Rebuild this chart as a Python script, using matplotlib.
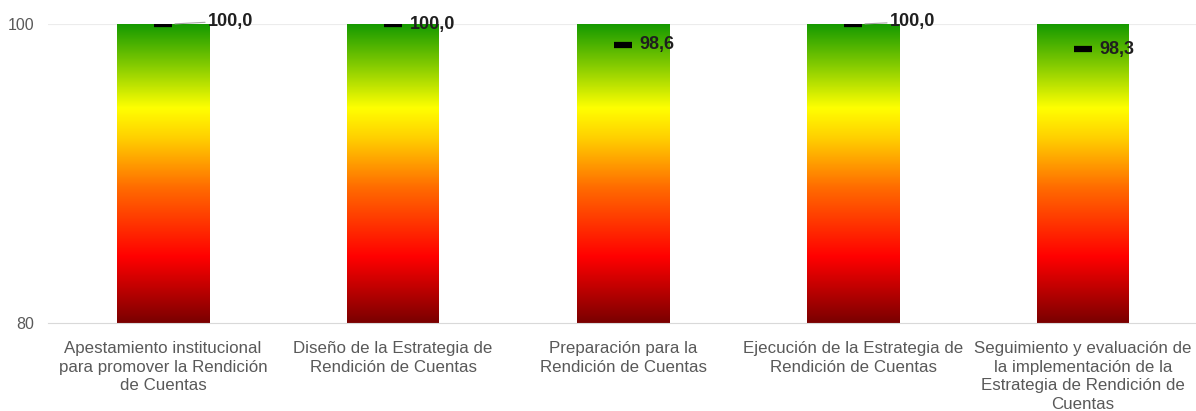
import numpy as np
import matplotlib
matplotlib.use("Agg")
import matplotlib.pyplot as plt
from matplotlib.colors import LinearSegmentedColormap

plt.rcParams['font.family'] = ['Liberation Sans', 'DejaVu Sans']

# datos
categorias = [
    "Apestamiento institucional\npara promover la Rendición\nde Cuentas",
    "Diseño de la Estrategia de\nRendición de Cuentas",
    "Preparación para la\nRendición de Cuentas",
    "Ejecución de la Estrategia de\nRendición de Cuentas",
    "Seguimiento y evaluación de\nla implementación de la\nEstrategia de Rendición de\nCuentas",
]
valores = [100.0, 100.0, 98.6, 100.0, 98.3]
etiquetas = ["100,0", "100,0", "98,6", "100,0", "98,3"]
y_ticks = [80, 100]

# posiciones de las etiquetas (desplazamiento x, y en datos)
label_dx = [0.195, 0.075, 0.07, 0.16, 0.07]
label_y = [100.2, 100.0, 98.6, 100.15, 98.3]
con_linea = [True, False, False, True, False]

cmap = LinearSegmentedColormap.from_list("semaforo", [
    (0.0, "#7a0000"),
    (0.22, "#ff0000"),
    (0.45, "#ff6a00"),
    (0.62, "#ffd000"),
    (0.72, "#ffff00"),
    (0.85, "#8fd000"),
    (1.0, "#169a00"),
])

fig = plt.figure(figsize=(11.96, 4.11), dpi=100)
ax = fig.add_axes([48 / 1196, 1 - 323 / 411, 1150 / 1196, 299 / 411])

grad = np.linspace(0, 1, 256).reshape(-1, 1)
ancho = 0.4
for i, v in enumerate(valores):
    ax.imshow(grad, cmap=cmap, origin="lower", aspect="auto",
              extent=(i - ancho / 2, i + ancho / 2, 80, 100), zorder=2)

x = np.arange(len(valores))
ax.plot(x, valores, linestyle="none", marker="_", markersize=13,
        markeredgewidth=4.5, color="black", zorder=4)

for i, v in enumerate(valores):
    tx = i + label_dx[i]
    if con_linea[i]:
        ax.annotate(etiquetas[i], xy=(i + 0.04, v), xytext=(tx, label_y[i]),
                    fontsize=13, fontweight="bold", color="#1f1f1f",
                    va="center", ha="left",
                    arrowprops=dict(arrowstyle="-", color="#a6a6a6", lw=0.8,
                                    shrinkA=0, shrinkB=2), zorder=5)
    else:
        ax.text(tx, label_y[i], etiquetas[i], fontsize=13, fontweight="bold",
                color="#1f1f1f", va="center", ha="left", zorder=5)

ax.set_xlim(-0.5, len(valores) - 0.5)
ax.set_ylim(80, 100)
ax.set_yticks(y_ticks)
ax.set_yticklabels([str(t) for t in y_ticks], fontsize=11.5, color="#595959")
ax.set_xticks(x)
ax.set_xticklabels(categorias, fontsize=12.2, color="#595959", linespacing=1.3)
ax.tick_params(length=0)
ax.tick_params(axis="y", pad=10)
ax.tick_params(axis="x", pad=13)
for s in ["top", "right", "left"]:
    ax.spines[s].set_visible(False)
ax.spines["bottom"].set_color("#d9d9d9")
ax.axhline(100, color="#ececec", lw=0.8, zorder=1)

fig.savefig("out.png", dpi=100)
